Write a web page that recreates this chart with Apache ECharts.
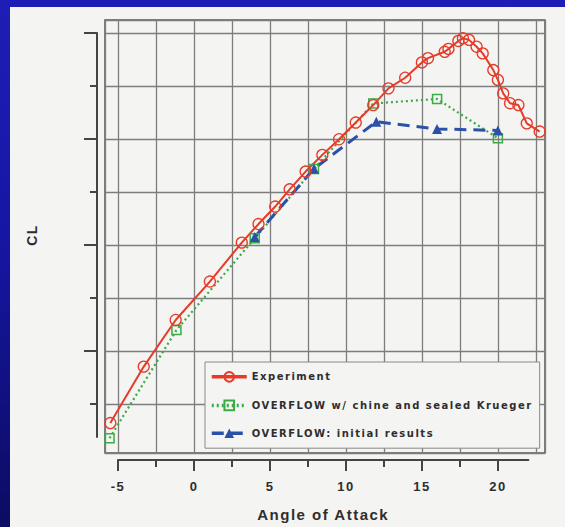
<!DOCTYPE html>
<html><head><meta charset="utf-8">
<script src="https://cdn.jsdelivr.net/npm/echarts@6/dist/echarts.min.js"></script>
<style>
html,body{margin:0;padding:0;width:565px;height:527px;overflow:hidden;}
#wrap{position:absolute;left:0;top:0;width:565px;height:527px;background:linear-gradient(180deg,#1e1eb6 0%,#1616a4 45%,#0c0c62 100%);}
#panel{position:absolute;left:10px;top:7px;width:555px;height:520px;background:#f4f4f2;}
#chart{position:absolute;left:0;top:0;width:565px;height:527px;letter-spacing:1.5px;}
</style></head>
<body>
<div id="wrap"></div><div id="panel"></div><div id="chart"></div>
<script>
// Experiment (red circles)
const alphaExp = [-5.5,-3.3,-1.2,1.05,3.15,4.25,5.35,6.3,7.35,8.45,9.55,10.65,11.8,12.8,13.9,15.0,15.4,16.5,16.75,17.4,17.7,18.1,18.6,19.0,19.7,20.0,20.35,20.8,21.35,21.9,22.75];
const clExp    = [0.128,0.341,0.517,0.662,0.809,0.879,0.945,1.010,1.077,1.140,1.199,1.262,1.328,1.391,1.431,1.489,1.505,1.529,1.540,1.570,1.580,1.574,1.548,1.523,1.460,1.423,1.372,1.335,1.328,1.259,1.228];
// OVERFLOW w/ chine and sealed Krueger (green squares)
const alphaChine = [-5.55,-1.15,4.0,7.9,11.8,16.0,20.0];
const clChine    = [0.071,0.479,0.825,1.087,1.334,1.351,1.203];
// OVERFLOW: initial results (blue triangles)
const alphaInit = [4.0,7.9,12.0,16.0,20.0];
const clInit    = [0.83,1.088,1.265,1.238,1.232];

const nameExp = 'Experiment';
const nameChine = 'OVERFLOW w/ chine and sealed Krueger';
const nameInit = 'OVERFLOW: initial results';

const xMajorTicks = [-5,0,5,10,15,20];
const xMinorTicks = [-2.5,2.5,7.5,12.5,17.5];
const yMajorTicks = [0.4,0.8,1.2,1.6];
const yMinorTicks = [0.2,0.6,1.0,1.4];

const zip = (a,b) => a.map((v,i)=>[v,b[i]]);
const RED='#e63b28', GREEN='#3aab45', BLUE='#2b50a8', INK='#2e2e2e', AX='#444';
const FONT='"Liberation Sans", Arial, sans-serif';

const chart = echarts.init(document.getElementById('chart'), null, {renderer:'svg'});
chart.setOption({
  backgroundColor:'transparent',
  animation:false,
  grid:[
    {left:105,right:20,top:20,bottom:74,show:true,borderColor:'#555',borderWidth:1.5,backgroundColor:'transparent'},
    {left:118,right:36.6,top:33,bottom:90}
  ],
  xAxis:[
    {gridIndex:0,type:'value',min:-5.85,max:23.1,minInterval:2.5,maxInterval:2.5,
     axisLine:{show:false,onZero:false},axisTick:{show:false},axisLabel:{show:false},
     splitLine:{show:true,lineStyle:{color:'#7d7d7d',width:1.3}}},
    {gridIndex:1,type:'value',min:-5,max:22,position:'bottom',offset:23,
     axisLine:{show:true,onZero:false,lineStyle:{color:AX,width:2}},
     axisTick:{show:true,length:11,customValues:xMajorTicks,lineStyle:{color:AX,width:2}},
     axisLabel:{show:true,customValues:xMajorTicks,margin:20,color:INK,fontFamily:FONT,fontWeight:'bold',fontSize:13},
     splitLine:{show:false},
     name:'Angle of Attack',nameLocation:'middle',nameGap:47,
     nameTextStyle:{color:INK,fontFamily:FONT,fontWeight:'bold',fontSize:15}},
    {gridIndex:1,type:'value',min:-5,max:22,position:'bottom',offset:23,
     axisLine:{show:false,onZero:false},
     axisTick:{show:true,length:7,customValues:xMinorTicks,lineStyle:{color:AX,width:2}},
     axisLabel:{show:false},splitLine:{show:false}}
  ],
  yAxis:[
    {gridIndex:0,type:'value',min:0.015,max:1.649,minInterval:0.2,maxInterval:0.2,
     axisLine:{show:false,onZero:false},axisTick:{show:false},axisLabel:{show:false},
     splitLine:{show:true,lineStyle:{color:'#7d7d7d',width:1.3}}},
    {gridIndex:1,type:'value',min:0.0755,max:1.6,position:'left',offset:21,
     axisLine:{show:true,onZero:false,lineStyle:{color:AX,width:2}},
     axisTick:{show:true,length:13,customValues:yMajorTicks,lineStyle:{color:AX,width:2}},
     axisLabel:{show:false},splitLine:{show:false},
     name:'CL',nameLocation:'middle',nameRotate:90,nameGap:58,
     nameTextStyle:{color:INK,fontFamily:FONT,fontWeight:'bold',fontSize:14}},
    {gridIndex:1,type:'value',min:0.0755,max:1.6,position:'left',offset:21,
     axisLine:{show:false,onZero:false},
     axisTick:{show:true,length:7,customValues:yMinorTicks,lineStyle:{color:AX,width:2}},
     axisLabel:{show:false},splitLine:{show:false}}
  ],
  legend:{
    data:[nameExp,nameChine,nameInit],
    orient:'vertical',left:205,top:362,
    padding:[9,61,10,5],itemGap:17,itemWidth:35,itemHeight:12,
    borderColor:'#8a8a8a',borderWidth:1,backgroundColor:'#f4f4f2',
    lineStyle:{width:3.5},
    textStyle:{color:INK,fontFamily:'"DejaVu Sans", sans-serif',fontWeight:'bold',fontSize:10}
  },
  series:[
    {name:nameChine,type:'line',xAxisIndex:0,yAxisIndex:0,data:zip(alphaChine,clChine),
     symbol:'rect',symbolSize:9,
     lineStyle:{color:GREEN,width:2.2,type:[2,3]},
     itemStyle:{color:'rgba(255,255,255,0)',borderColor:GREEN,borderWidth:1.5}},
    {name:nameInit,type:'line',xAxisIndex:0,yAxisIndex:0,data:zip(alphaInit,clInit),
     symbol:'triangle',symbolSize:10,
     lineStyle:{color:BLUE,width:3,type:[12,7]},
     itemStyle:{color:BLUE}},
    {name:nameExp,type:'line',xAxisIndex:0,yAxisIndex:0,data:zip(alphaExp,clExp),
     symbol:'circle',symbolSize:11,
     lineStyle:{color:RED,width:2},
     itemStyle:{color:'rgba(255,255,255,0)',borderColor:RED,borderWidth:1.3}}
  ]
});
</script>
</body></html>
